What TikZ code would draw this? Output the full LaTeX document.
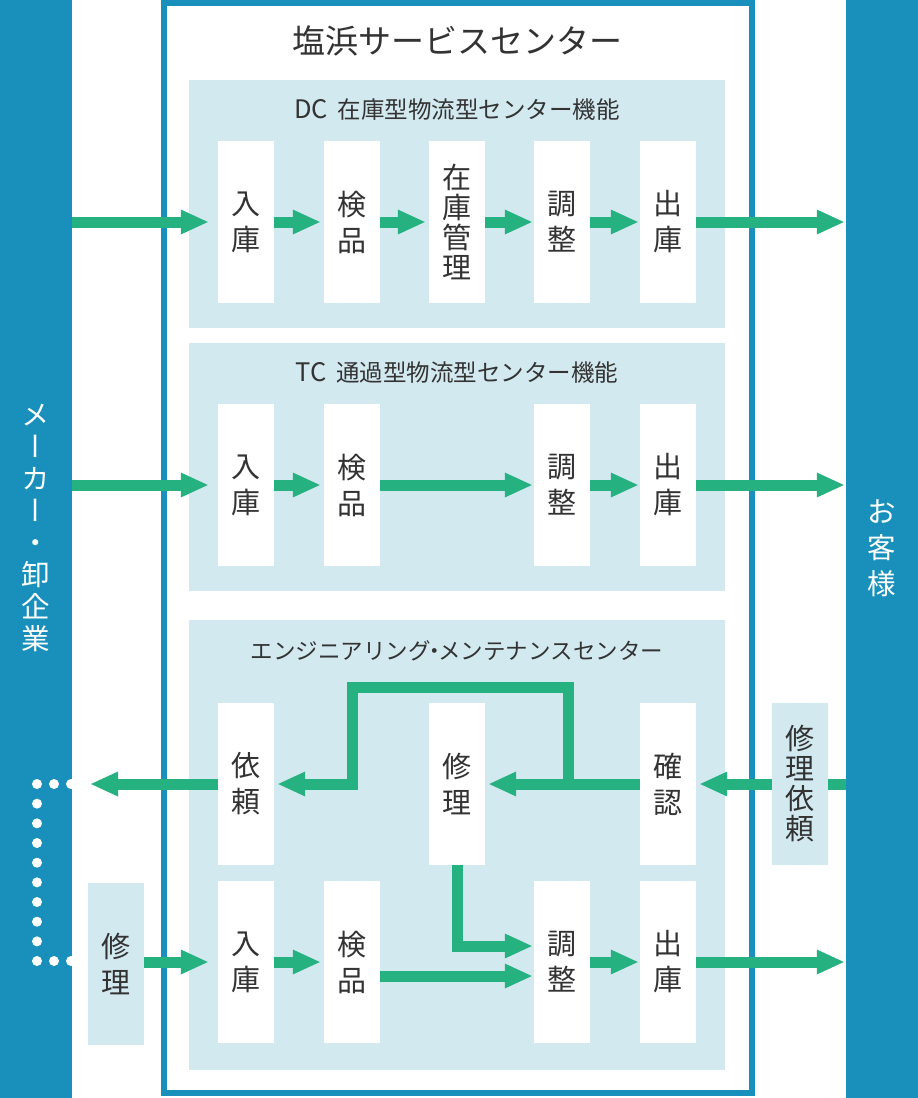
\documentclass[tikz,border=0pt]{standalone}
\usepackage{fontspec}
\setmainfont{Noto Sans CJK JP}
\newfontfamily\jpv[RawFeature=+vert]{Noto Sans CJK JP}
\usetikzlibrary{arrows.meta}
\definecolor{barblue}{HTML}{1890BB}
\definecolor{pale}{HTML}{D3E9F0}
\definecolor{grn}{HTML}{26B180}
\definecolor{txt}{HTML}{333333}
\begin{document}
\begin{tikzpicture}[x=1pt,y=-1pt,
  bar/.style={fill=barblue, minimum width=72pt, minimum height=1098pt, inner sep=0pt},
  panel/.style={fill=pale, minimum width=536pt, inner sep=0pt},
  box/.style={fill=white, minimum width=56pt, minimum height=162pt, inner sep=0pt, align=center, text=txt, font=\fontsize{29}{36}\selectfont},
  boxfour/.style={box, font=\fontsize{29}{30}\selectfont},
  sidebox/.style={box, fill=pale},
  arr/.style={draw=grn, line width=11pt, -{Triangle[length=27pt,width=25pt,line width=0pt]}, shorten >=4pt},
  ln/.style={draw=grn, line width=11pt},
  seclabel/.style={text=txt, inner sep=0pt, font=\fontsize{23.5}{26}\selectfont},
]
\useasboundingbox (0,0) rectangle (918,1098);
% side bars
\node[bar] (maker) at (36,549) {};
\node[bar] (cust) at (882,549) {};
\node[text=white, inner sep=0pt, align=center, font=\jpv\fontsize{28.5}{32}\selectfont] (makerlbl) at (36,528) {メ\\ー\\カ\\ー\\・\\卸\\企\\業};
\node[text=white, inner sep=0pt, align=center, font=\fontsize{28.5}{36}\selectfont] (custlbl) at (882,548) {お\\客\\様};
% service center frame
\node[draw=barblue, line width=6pt, minimum width=588pt, minimum height=1090pt, inner sep=0pt] (svc) at (458,548) {};
\node[text=txt, inner sep=0pt, font=\fontsize{33}{36}\selectfont] (title) at (457,41) {塩浜サービスセンター};
% panels
\node[panel, minimum height=248pt] (dc) at (457,204) {};
\node[panel, minimum height=248pt] (tc) at (457,467) {};
\node[panel, minimum height=450pt] (eng) at (457,845) {};
\node[seclabel] (dclbl) at (457,110) {{\fontsize{25.5}{26}\selectfont DC}\hspace{0.4em}在庫型物流型センター機能};
\node[seclabel] (tclbl) at (457,373) {{\fontsize{25.5}{26}\selectfont TC}\hspace{0.4em}通過型物流型センター機能};
\node[seclabel, font=\fontsize{22.5}{26}\selectfont] (englbl) at (457,651) {エンジニアリング\kern-7.5pt・\kern-7.5pt メンテナンスセンター};
% DC row
\node[box] (d1) at (246,222) {入\\庫};
\node[box] (d2) at (352,222) {検\\品};
\node[boxfour] (d3) at (457,222) {在\\庫\\管\\理};
\node[box] (d4) at (562,222) {調\\整};
\node[box] (d5) at (668,222) {出\\庫};
% TC row
\node[box] (t1) at (246,485) {入\\庫};
\node[box] (t2) at (352,485) {検\\品};
\node[box] (t4) at (562,485) {調\\整};
\node[box] (t5) at (668,485) {出\\庫};
% Engineering rows
\node[box] (irai) at (246,784) {依\\頼};
\node[box] (shuri) at (457,784) {修\\理};
\node[box] (kakunin) at (668,784) {確\\認};
\node[box] (e1) at (246,962) {入\\庫};
\node[box] (e2) at (352,962) {検\\品};
\node[box] (e4) at (562,962) {調\\整};
\node[box] (e5) at (668,962) {出\\庫};
\node[sidebox] (repairL) at (116,964) {修\\理};
\node[sidebox, font=\fontsize{29}{30}\selectfont] (reqR) at (800,784) {修\\理\\依\\頼};
% DC arrows
\draw[arr, shorten >=10pt] (maker.east |- d1) -- (d1);
\draw[arr] (d1) -- (d2);
\draw[arr] (d2) -- (d3);
\draw[arr, shorten >=2pt] (d3) -- (d4);
\draw[arr, shorten >=2pt] (d4) -- (d5);
\draw[arr, shorten >=2pt] (d5) -- (cust.west |- d5);
% TC arrows
\draw[arr, shorten >=10pt] (maker.east |- t1) -- (t1);
\draw[arr] (t1) -- (t2);
\draw[arr, shorten >=2pt] (t2) -- (t4);
\draw[arr, shorten >=2pt] (t4) -- (t5);
\draw[arr, shorten >=2pt] (t5) -- (cust.west |- t5);
% Engineering arrows
\draw[ln] (cust.west |- reqR) -- (reqR);
\draw[arr] (reqR) -- (kakunin);
\draw[arr] (kakunin) -- (shuri);
\coordinate (br) at (568,784);
\coordinate (brA) at (568,687);
\coordinate (brB) at (352,687);
\draw[arr] (br) -- (brA) -- (brB) -- (brB |- irai) -- (irai);
\coordinate (iraiout) at (91,784);
\draw[arr, shorten >=0pt] (irai) -- (iraiout);
\draw[arr, shorten >=2pt] (shuri.south) |- ([yshift=16pt]e4.west);
\draw[arr, shorten >=2pt] ([yshift=-14pt]e2.east) -- ([yshift=-14pt]e4.west);
\draw[arr, shorten >=10pt] (repairL.east |- e1) -- (e1);
\draw[arr] (e1) -- (e2);
\draw[arr, shorten >=2pt] (e4) -- (e5);
\draw[arr, shorten >=2pt] (e5) -- (cust.west |- e5);
% dotted link on the maker bar
\begin{scope}
\clip (0,0) rectangle (72,1098);
\foreach \x in {37,54,71} {
  \fill[white] (\x,784) circle (5pt);
  \fill[white] (\x,961) circle (5pt);
}
\foreach \k in {1,...,8} \fill[white] (37,{784+\k*19.67}) circle (5pt);
\end{scope}
\end{tikzpicture}
\end{document}
